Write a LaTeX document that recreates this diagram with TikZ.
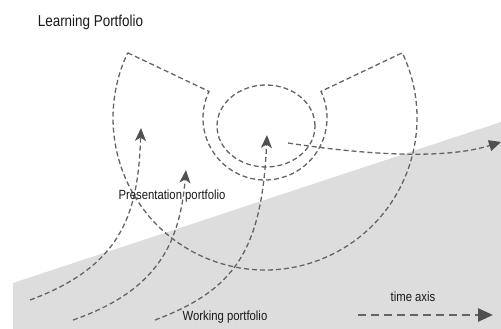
\documentclass[tikz,border=0pt]{standalone}
\usepackage{fontspec}
\setmainfont{Liberation Sans}[FakeStretch=0.85]
\usetikzlibrary{arrows.meta}
\definecolor{dashgray}{RGB}{100,100,100}
\definecolor{headgray}{RGB}{80,80,80}
\definecolor{fillgray}{RGB}{221,221,221}
\definecolor{txtcol}{RGB}{25,25,25}
\tikzset{
  dl/.style={draw=dashgray, line width=1.3pt, dash pattern=on 5pt off 3pt},
  headtip/.style={-{Stealth[length=13pt,width=11pt,inset=3.5pt,color=headgray]}},
  tritip/.style={-{Triangle[length=12pt,width=11pt,color=headgray]}},
  lbl/.style={anchor=base, text=txtcol, inner sep=0pt, font=\fontsize{13.3}{15}\selectfont}
}
\begin{document}
\begin{tikzpicture}[x=1pt,y=1pt]
\useasboundingbox (0,0) rectangle (501,-329);
% shaded region
\fill[fillgray] (13,-283) -- (501,-122) -- (501,-329) -- (13,-329) -- cycle;
% sector shape
\coordinate (C) at (265,-118);
\draw[dl] ([shift={(C)}]154.6:152) -- ([shift={(C)}]154.6:62)
  arc[start angle=154.6, end angle=385.4, radius=62]
  -- ([shift={(C)}]25.4:152)
  arc[start angle=25.4, end angle=-205.4, radius=152] -- cycle;
% inner ellipse
\draw[dl] (266,-126) ellipse[x radius=49, y radius=41];
% arrows
\coordinate (a1s) at (30,-300);  \coordinate (a1e) at (141,-128);
\coordinate (a2s) at (73,-320);  \coordinate (a2e) at (186,-170);
\coordinate (a3s) at (155,-320); \coordinate (a3e) at (267,-135);
\coordinate (a4s) at (288,-143); \coordinate (a4e) at (501,-142);
\draw[dl, headtip] (a1s) .. controls (125,-265) and (138,-210) .. (a1e);
\draw[dl, headtip] (a2s) .. controls (160,-290) and (180,-240) .. (a2e);
\draw[dl, headtip] (a3s) .. controls (235,-290) and (262,-250) .. (a3e);
\draw[dl, tritip] (a4s) .. controls (380,-157) and (450,-158) .. (a4e);
% time axis
\coordinate (ts) at (358,-315); \coordinate (te) at (493,-315);
\draw[draw=dashgray, line width=2.6pt, dash pattern=on 8pt off 5pt,
  -{Triangle[length=15pt,width=13pt,color=headgray]}] (ts) -- (te);
% labels
\node[lbl, font=\fontsize{15.8}{18}\selectfont] (title) at (90.5,-26.5) {Learning Portfolio};
\node[lbl] (pres) at (172,-199) {Presentation portfolio};
\node[lbl] (work) at (225,-320.5) {Working portfolio};
\node[lbl] (time) at (413,-301) {time axis};
\end{tikzpicture}
\end{document}
